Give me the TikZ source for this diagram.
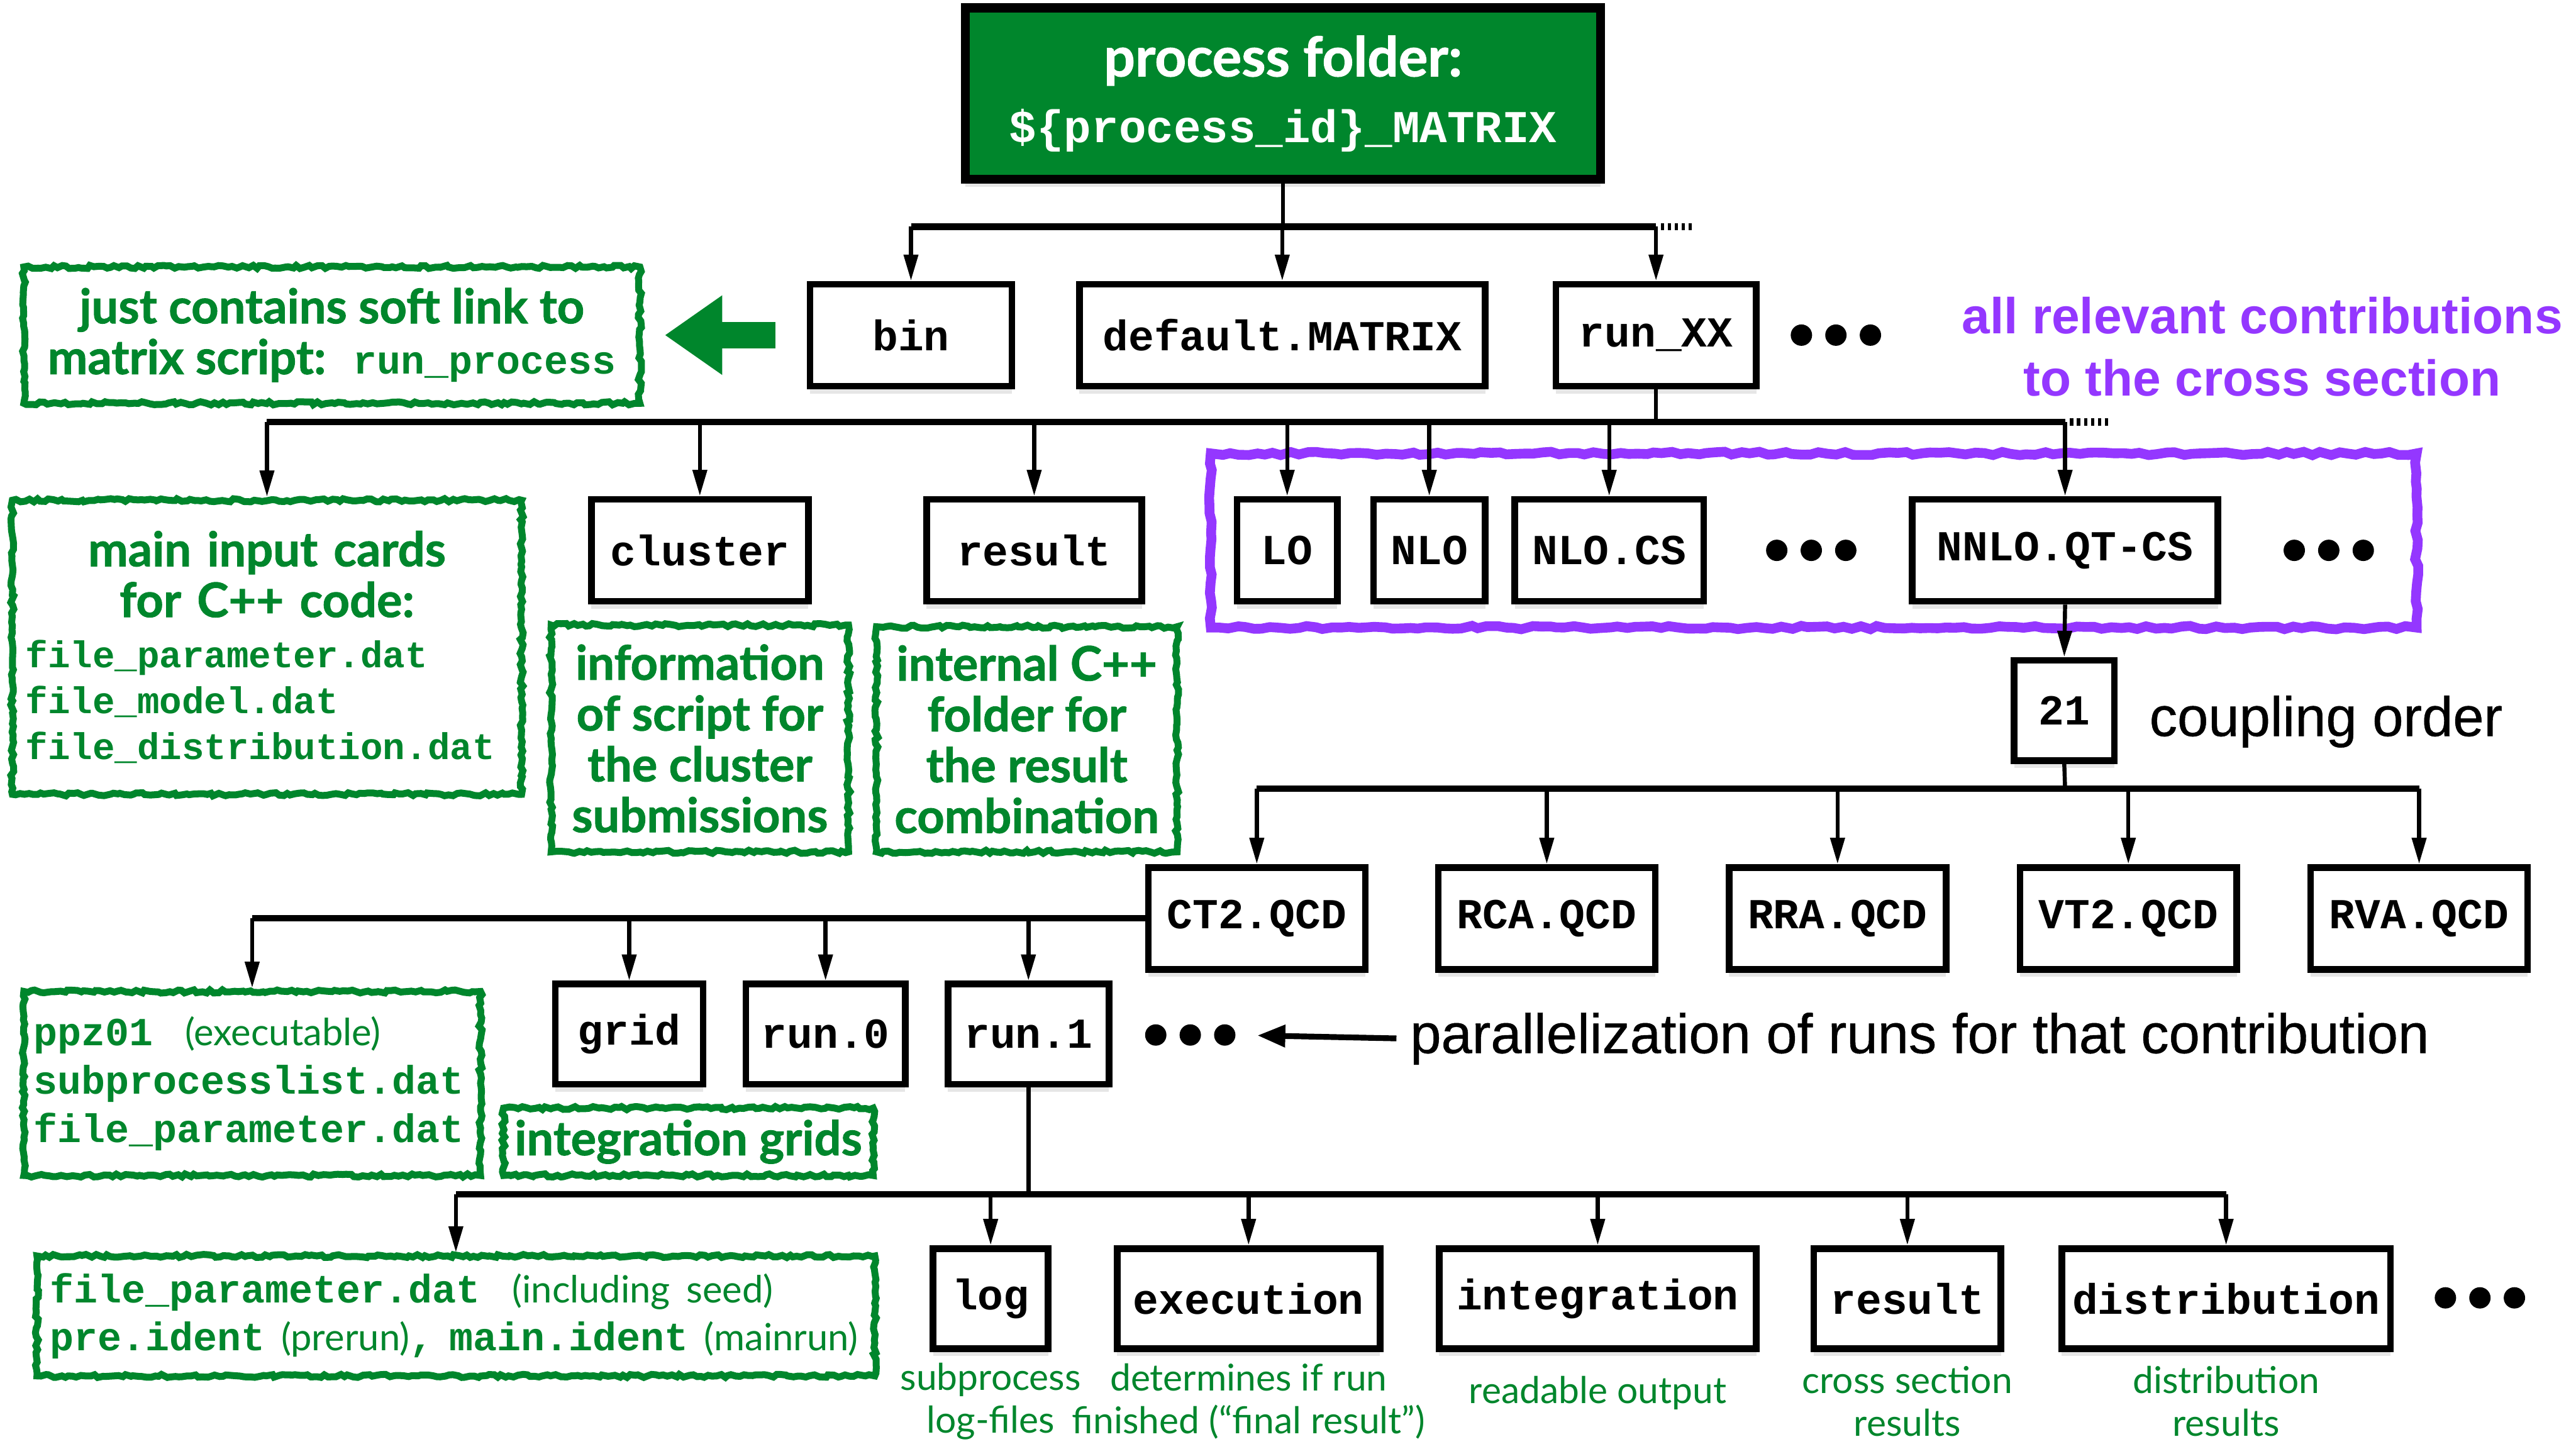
\documentclass[tikz,border=0pt]{standalone}
\usepackage{fontspec}
\setmainfont{Liberation Sans}
\newfontfamily\labelfont[FakeBold=0.5]{Liberation Sans}
\newfontfamily\gillfont[BoldFeatures={FakeBold=1.2}]{Lato}
\newfontfamily\monofont{Liberation Mono}
\usetikzlibrary{arrows.meta,decorations.pathmorphing,shadows}

\definecolor{dirgreen}{RGB}{0,134,44}
\definecolor{contribpurple}{HTML}{9437FF}

\newcommand\mono[2][13.8]{{\monofont\bfseries\fontsize{#1}{16}\selectfont #2}}
\newcommand\annot[1]{{\gillfont\mdseries\fontsize{13}{15.6}\selectfont #1}}
\newcommand\midline[1]{\hspace*{0pt plus 1filll}#1\hspace*{0pt plus 1filll}\mbox{}}

\tikzset{
  dirbox/.style={draw, line width=2.3pt, fill=white, inner sep=0pt,
    minimum height=12.4mm, font=\monofont\bfseries\fontsize{14.8}{17}\selectfont,
    drop shadow={shadow xshift=0pt, shadow yshift=-.9mm, opacity=.2}},
  topbox/.style={draw, line width=3.1pt, fill=dirgreen, text=white, inner sep=0pt,
    minimum width=77.3mm, minimum height=20.9mm, align=center,
    font=\gillfont\bfseries\fontsize{19}{22.8}\selectfont,
    drop shadow={shadow xshift=0pt, shadow yshift=-.9mm, opacity=.2}},
  notebox/.style={draw=dirgreen, line width=2.4pt, fill=white, text=dirgreen,
    inner sep=0pt, decorate,
    decoration={random steps, segment length=1.4pt, amplitude=.55pt},
    font=\gillfont\bfseries\fontsize{16.5}{#1}\selectfont},
  notebox/.default=17.6,
  notecap/.style={text=dirgreen, align=center, inner sep=0pt,
    font=\gillfont\fontsize{12.8}{14.8}\selectfont},
  purpletext/.style={text=contribpurple, align=center,
    font=\bfseries\fontsize{17.5}{21.6}\selectfont},
  blacktext/.style={inner sep=0pt, font=\labelfont\fontsize{19.3}{23}\selectfont},
  contribframe/.style={draw=contribpurple, line width=3.4pt, decorate,
    decoration={random steps, segment length=3pt, amplitude=.6pt}},
  conn/.style={line width=1.4pt},
  busline/.style={line width=2.2pt},
  busticks/.style={line width=2.6pt, dash pattern=on 1.1pt off 1.3pt},
  arr/.style={conn, -{Triangle[length=3.2mm, width=1.7mm]}},
  notearrow/.style={draw=dirgreen, line width=3.2mm,
    -{Triangle[length=7mm, width=9.2mm]}},
  moredots/.style={inner sep=0pt, minimum width=11mm, minimum height=2.8mm,
    path picture={\foreach \k in {-1,0,1}
      \fill ([xshift=\k*4.2mm]path picture bounding box.center) circle (1.3mm);}}
}

\begin{document}
\begin{tikzpicture}[x=0.2mm, y=-0.2mm]
  \useasboundingbox (0,0) rectangle (1568,882);

  %% process folder
  \node[topbox] (top) at (781,57)
    {process folder:\\\mono[15.8]{\$\{process\_id\}\_MATRIX}};

  %% first level
  \node[dirbox, minimum width=24.6mm] (bin) at (554.5,204) {bin};
  \node[dirbox, minimum width=49.4mm] (dflt) at (780.5,204) {default.MATRIX};
  \node[dirbox, minimum width=24.4mm] (runxx) at (1008,204) {run\_XX};
  \node[moredots] (dots1) at (1117.5,204) {};
  \node[notebox, minimum width=75mm, minimum height=16.6mm, align=center] (link)
    at (202,204) {just contains soft link to\\matrix script: \ \mono{run\_process}};
  \node[purpletext] (contrib) at (1377,211)
    {all relevant contributions\\to the cross section};

  %% contents of run_XX
  \node[notebox=15.9, minimum width=62mm, minimum height=35.8mm,
    text width=58.8mm, align=left] (cards) at (162.5,394)
    {\midline{main input cards}\\[1.7pt]
     \midline{for C++ code:}\\[1.7pt]
     \mono[12.9]{file\_parameter.dat}\\
     \mono[12.9]{file\_model.dat}\\
     \mono[12.9]{file\_distribution.dat}};
  \node[dirbox, minimum width=26.4mm] (cluster) at (426,335) {cluster};
  \node[dirbox, minimum width=26.2mm] (result) at (629.5,335) {result};
  \node[dirbox, minimum width=12.2mm] (LO) at (783.5,335) {LO};
  \node[dirbox, minimum width=13.6mm] (NLO) at (870,335) {NLO};
  \node[dirbox, minimum width=23mm] (NLOCS) at (979.5,335) {NLO.CS};
  \node[moredots] (dots2) at (1102.5,335) {};
  \node[dirbox, minimum width=37.2mm] (NNLO) at (1257,335) {NNLO.QT-CS};
  \node[moredots] (dots3) at (1417.5,335) {};
  \draw[contribframe] (737,276) rectangle (1471,382);

  \node[notebox, minimum width=36.2mm, minimum height=27.6mm, align=center]
    (info) at (426,449.5)
    {information\\of script for\\the cluster\\submissions};
  \node[notebox, minimum width=36.6mm, minimum height=27.4mm, align=center]
    (internal) at (625,450)
    {internal C++\\folder for\\the result\\combination};

  %% coupling order and contributions
  \node[dirbox, minimum width=12.2mm, minimum height=12.2mm] (n21) at (1256.5,432.5) {21};
  \node[blacktext, anchor=base west] (coupling) at (1308,448) {coupling order};
  \node[dirbox, minimum width=26.4mm] (CT2) at (765,559) {CT2.QCD};
  \node[dirbox, minimum width=26.4mm] (RCA) at (941.5,559) {RCA.QCD};
  \node[dirbox, minimum width=26.4mm] (RRA) at (1118.5,559) {RRA.QCD};
  \node[dirbox, minimum width=26.4mm] (VT2) at (1295.5,559) {VT2.QCD};
  \node[dirbox, minimum width=26.4mm] (RVA) at (1472.5,559) {RVA.QCD};

  %% contents of a contribution
  \node[notebox=16.8, minimum width=55.6mm, minimum height=22.4mm,
    text width=53.2mm, align=left] (exe) at (153.5,659.5)
    {\mono{ppz01}\ \ \annot{(executable)}\\
     \mono{subprocesslist.dat}\\
     \mono{file\_parameter.dat}};
  \node[dirbox, minimum width=18mm, minimum height=12.2mm] (grid) at (383,629.5) {grid};
  \node[dirbox, minimum width=19.4mm, minimum height=12.2mm] (run0) at (502.5,629.5) {run.0};
  \node[dirbox, minimum width=19.6mm, minimum height=12.2mm] (run1) at (626,629.5) {run.1};
  \node[moredots] (dots4) at (724.5,630) {};
  \node[blacktext, anchor=base west] (para) at (858,641)
    {parallelization of runs for that contribution};
  \node[notebox, minimum width=45mm, minimum height=8.2mm] (grids) at (419,695)
    {integration grids};

  %% contents of a run
  \node[notebox=16.5, minimum width=102mm, minimum height=14.6mm,
    text width=98.8mm, align=left] (seed) at (277.5,801)
    {\mono{file\_parameter.dat}\ \ \annot{(including seed)}\\
     \mono{pre.ident} \annot{(prerun)}\mono{,} \mono{main.ident} \annot{(mainrun)}};
  \node[dirbox, minimum width=14mm, minimum height=12.2mm] (log) at (603,790.5) {log};
  \node[dirbox, minimum width=32mm, minimum height=12.2mm] (exec) at (760,790.5) {execution};
  \node[dirbox, minimum width=38.6mm, minimum height=12.2mm] (integ) at (972.5,790.5) {integration};
  \node[dirbox, minimum width=22.8mm, minimum height=12.2mm] (res2) at (1161,790.5) {result};
  \node[dirbox, minimum width=40mm, minimum height=12.2mm] (distr) at (1355,790.5) {distribution};
  \node[moredots] (dots5) at (1509.5,790) {};

  \node[notecap] (logcap) at (603,853) {subprocess\\log-files};
  \node[notecap] (execcap) at (760,853) {determines if run\\finished (“final result”)};
  \node[notecap] (integcap) at (972.5,848) {readable output};
  \node[notecap] (rescap) at (1161,853) {cross section\\results};
  \node[notecap] (distrcap) at (1355,853) {distribution\\results};

  %% tree: process folder
  \coordinate (bus1) at (781,138);
  \draw[conn] (top.south) -- (bus1);
  \draw[busline] (bin.north |- bus1) -- (runxx.north |- bus1);
  \draw[busticks] ([xshift=.6mm]runxx.north |- bus1) -- ++(20,0);
  \foreach \n in {bin,dflt,runxx}
    \draw[arr] (\n.north |- bus1) -- (\n.north);
  \draw[notearrow, shorten <=3.8mm, shorten >=2.6mm] (bin.west) -- (link.east);

  %% tree: run_XX
  \coordinate (bus2) at (1008,257);
  \draw[conn] (runxx.south) -- (bus2);
  \draw[busline] (cards.north |- bus2) -- (NNLO.north |- bus2);
  \draw[busticks] ([xshift=.6mm]NNLO.north |- bus2) -- ++(24,0);
  \foreach \n in {cards,cluster,result,LO,NLO,NLOCS,NNLO}
    \draw[arr] (\n.north |- bus2) -- (\n.north);

  %% tree: NNLO.QT-CS
  \draw[arr] (NNLO.south) -- (n21.north);
  \coordinate (bus3) at (1257,480);
  \draw[conn] (n21.south) -- (bus3);
  \draw[busline] (CT2.north |- bus3) -- (RVA.north |- bus3);
  \foreach \n in {CT2,RCA,RRA,VT2,RVA}
    \draw[arr] (\n.north |- bus3) -- (\n.north);

  %% tree: CT2.QCD
  \draw[busline] (CT2.west) -- (exe.north |- CT2.west);
  \foreach \n in {exe,grid,run0,run1}
    \draw[arr] (\n.north |- CT2.west) -- (\n.north);
  \draw[conn, -{Triangle[length=3.4mm, width=2.6mm]}, line width=2pt,
    shorten <=1.6mm, shorten >=2.6mm] (para.west) -- (dots4.east);

  %% tree: run.1
  \coordinate (bus5) at (626,727);
  \draw[conn] (run1.south) -- (bus5);
  \draw[busline] (seed.north |- bus5) -- (distr.north |- bus5);
  \foreach \n in {seed,log,exec,integ,res2,distr}
    \draw[arr] (\n.north |- bus5) -- (\n.north);

\end{tikzpicture}
\end{document}
